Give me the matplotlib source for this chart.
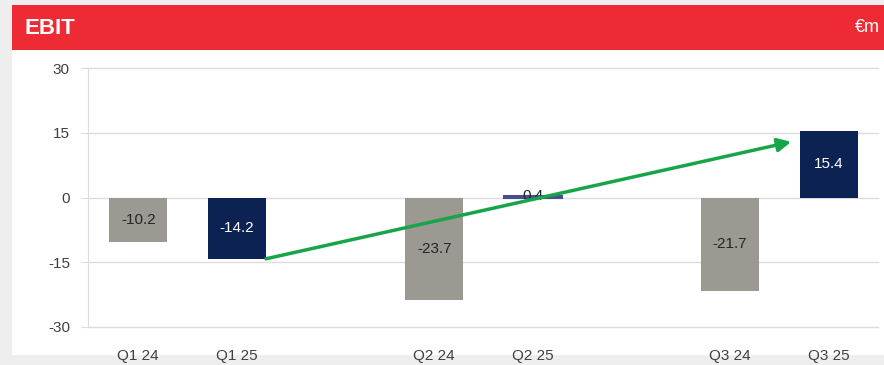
import matplotlib.pyplot as plt
from matplotlib.patches import Rectangle

plt.rcParams['font.family'] = ['Liberation Sans', 'DejaVu Sans']
plt.rcParams['axes.unicode_minus'] = False

quarters = ['Q1 24', 'Q1 25', 'Q2 24', 'Q2 25', 'Q3 24', 'Q3 25']
ebit = [-10.2, -14.2, -23.7, 0.4, -21.7, 15.4]
positions = [0, 1, 3, 4, 6, 7]

grey = '#9c9892'
navy = '#0b2252'
bar_colors = [grey, navy, grey, '#4a4f8c', grey, navy]
label_colors = ['#262626', 'white', '#262626', '#262626', '#262626', 'white']

fig = plt.figure(figsize=(8.84, 3.65), dpi=100)
fig.patch.set_facecolor('#eeeeee')

# white panel and red title bar
fig.add_artist(Rectangle((12 / 884, 10 / 365), 872 / 884, 305 / 365,
                         transform=fig.transFigure, facecolor='white', edgecolor='none', zorder=0))
fig.add_artist(Rectangle((12 / 884, 315 / 365), 872 / 884, 45 / 365,
                         transform=fig.transFigure, facecolor='#ee2b35', edgecolor='none', zorder=1))
fig.text(25 / 884, 337 / 365, 'EBIT', color='white', fontsize=16, fontweight='bold',
         va='center', ha='left')
fig.text(880 / 884, 337 / 365, '€m', color='white', fontsize=13, va='center', ha='right')

ax = fig.add_axes([88 / 884, 38 / 365, 790 / 884, 259 / 365])
ax.set_facecolor('none')

ax.bar(positions, ebit, width=0.59, color=bar_colors, zorder=3)
# thin Q2 25 bar gets an outline so it stays visible
ax.bar(positions[3], ebit[3], width=0.59, color='none', edgecolor='#4a4f8c', lw=1.5, zorder=3)
for x, v, c in zip(positions, ebit, label_colors):
    ax.text(x, v / 2 if abs(v) > 2 else v, f'{v:.1f}', ha='center', va='center',
            color=c, fontsize=11, zorder=4)

# growth arrow from Q1 25 to Q3 25
ax.annotate('', xy=(6.62, 12.9), xytext=(1.295, ebit[1]),
            arrowprops=dict(arrowstyle='-|>', color='#17a44a', lw=2.5,
                            mutation_scale=20, shrinkA=0, shrinkB=0), zorder=5)

ax.set_ylim(-30, 30)
ax.set_xlim(-0.51, 7.5)
ax.set_yticks([-30, -15, 0, 15, 30])
ax.set_xticks(positions)
ax.set_xticklabels(quarters)
for y in [-30, -15, 0, 15, 30]:
    ax.axhline(y, color='#dcdcdc', lw=1, zorder=0, clip_on=False)
for side in ['top', 'right', 'bottom']:
    ax.spines[side].set_visible(False)
ax.spines['left'].set_color('#dcdcdc')
ax.tick_params(axis='y', length=5, color='#dcdcdc', labelsize=11, labelcolor='#404040', pad=8)
ax.tick_params(axis='x', length=0, labelsize=11, labelcolor='#404040', pad=16)

fig.savefig('out.png', dpi=100)
